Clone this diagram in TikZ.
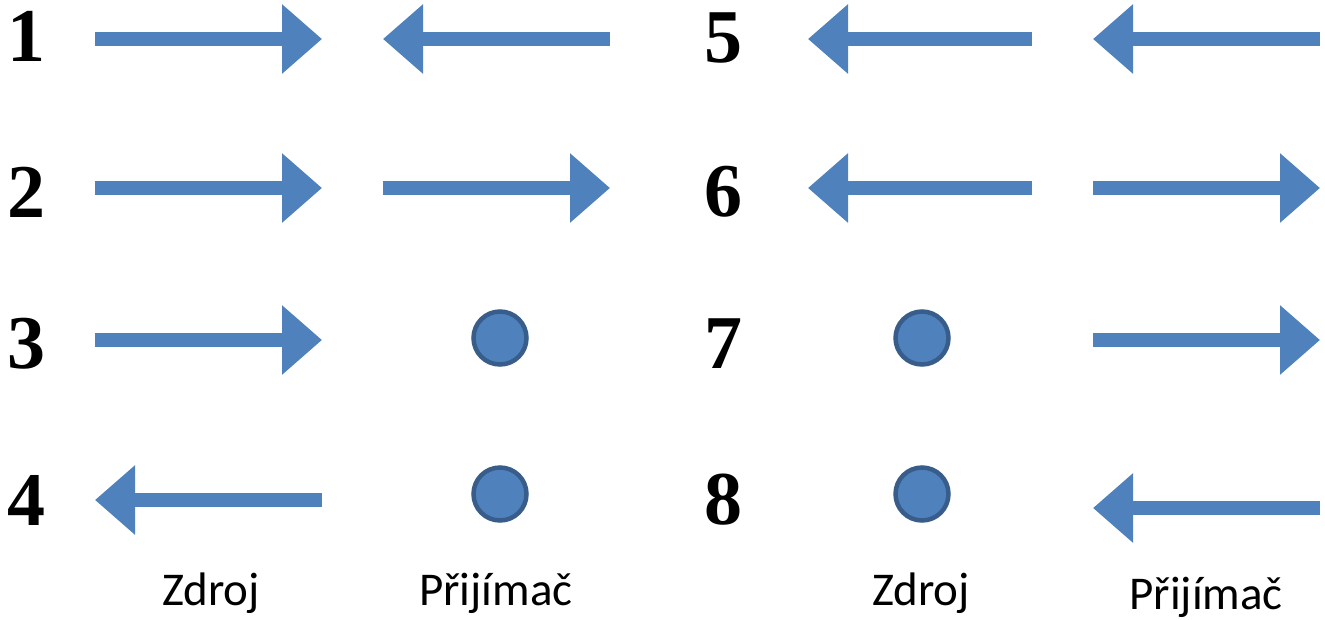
\documentclass[tikz,border=0pt]{standalone}
\usepackage{fontspec}
\newfontfamily\numfont{Liberation Serif}
\newfontfamily\labfont{Carlito}
\usetikzlibrary{arrows.meta}
\definecolor{wblue}{HTML}{4F81BD}
\definecolor{wedge}{HTML}{385D8A}

\begin{document}
\begin{tikzpicture}[x=1pt,y=-1pt,
  wave/.style={line width=14pt,wblue,-{Triangle[length=40pt,width=67pt]}},
  dot/.style={circle,draw=wedge,line width=4.5pt,fill=wblue,minimum size=53pt,inner sep=0pt},
  num/.style={font=\fontsize{76}{80}\selectfont\numfont\bfseries,inner sep=0pt},
  lab/.style={font=\fontsize{47}{52}\selectfont\labfont,anchor=base,inner sep=0pt}]
\useasboundingbox (0,0) rectangle (1325,619);
% case numbers
\node[num] (n1) at (27,36) {1};
\node[num] (n2) at (27,192) {2};
\node[num] (n3) at (27,344) {3};
\node[num] (n4) at (27,500) {4};
\node[num] (n5) at (723,38) {5};
\node[num] (n6) at (723,192) {6};
\node[num] (n7) at (723,344) {7};
\node[num] (n8) at (723,500) {8};
% left block
\draw[wave] (95,39) -- (322,39);
\draw[wave] (610,39) -- (383,39);
\draw[wave] (95,188) -- (322,188);
\draw[wave] (383,188) -- (610,188);
\draw[wave] (95,340) -- (322,340);
\node[dot] (d3) at (500,338) {};
\draw[wave] (322,500) -- (95,500);
\node[dot] (d4) at (500,494) {};
% right block
\draw[wave] (1032,39) -- (808,39);
\draw[wave] (1320,39) -- (1093,39);
\draw[wave] (1032,188) -- (808,188);
\draw[wave] (1093,188) -- (1320,188);
\node[dot] (d7) at (922,338) {};
\draw[wave] (1093,340) -- (1320,340);
\node[dot] (d8) at (922,494) {};
\draw[wave] (1320,508) -- (1093,508);
% labels
\node[lab] (z1) at (211,605) {Zdroj};
\node[lab] (p1) at (496,605) {Přijímač};
\node[lab] (z2) at (921,605) {Zdroj};
\node[lab] (p2) at (1206,609) {Přijímač};
\end{tikzpicture}
\end{document}
